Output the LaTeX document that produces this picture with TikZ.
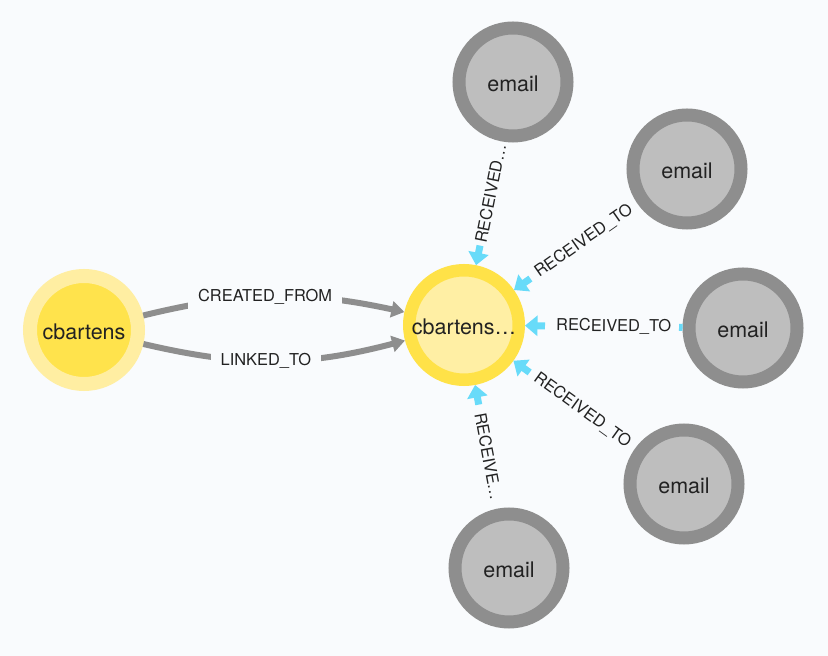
\documentclass[tikz,border=0pt]{standalone}
\usepackage{fontspec}
\setmainfont{TeX Gyre Heros}
\usetikzlibrary{arrows.meta, calc}
\definecolor{canvas}{RGB}{249,251,253}
\definecolor{ink}{RGB}{34,34,34}
\definecolor{usrring}{RGB}{255,238,162}
\definecolor{usrfill}{RGB}{255,227,76}
\definecolor{hubring}{RGB}{255,226,72}
\definecolor{hubfill}{RGB}{255,239,164}
\definecolor{mailring}{RGB}{142,142,142}
\definecolor{mailfill}{RGB}{190,190,190}
\definecolor{relgray}{RGB}{142,142,142}
\definecolor{recvcyan}{RGB}{104,219,249}
\newcommand{\nodefont}{\fontsize{21.5}{24}\selectfont}
\newcommand{\relfont}{\fontsize{16.4}{18}\selectfont}

\begin{document}
\begin{tikzpicture}[x=1pt, y=1pt,
  every node/.style={inner sep=2pt},
  circ/.style={circle, inner sep=0pt, font=\nodefont, text=ink,
               text height=20pt, text depth=0pt},
  person/.style={circ, draw=usrring, fill=usrfill, line width=14pt,
                 minimum size=108pt},
  hubnode/.style={circ, draw=hubring, fill=hubfill, line width=12.5pt,
                  minimum size=109.5pt},
  mail/.style={circ, draw=mailring, fill=mailfill, line width=13pt,
               minimum size=108pt},
  rel/.style={-{Triangle[length=13pt, width=16pt]}, relgray, line width=6pt},
  recv/.style={-{Triangle[length=12.5pt, width=20pt]}, recvcyan, line width=7pt},
  recvline/.style={recvcyan, line width=7pt},
  lbl/.style={font=\relfont, text=ink, fill=canvas, inner xsep=10pt, inner ysep=5pt},
  rlbl/.style={font=\relfont, text=ink, sloped}]
\useasboundingbox (0,0) rectangle (828,656);
\fill[canvas] (0,0) rectangle (828,656);

\node[person]  (usr) at (84,326)  {cbartens};
\node[hubnode] (hub) at (464,331) {cbartens…};
\node[mail] (e1) at (513,574) {email};
\node[mail] (e2) at (687,487) {email};
\node[mail] (e3) at (743,328) {email};
\node[mail] (e4) at (684,172) {email};
\node[mail] (e5) at (509,88)  {email};

% user to hub
\draw[rel] (usr) to[bend left=13]  node[lbl, pos=0.465] {CREATED\_FROM} (hub);
\draw[rel] (usr) to[bend right=14] node[lbl, pos=0.465] {LINKED\_TO} (hub);

% emails to hub, only the ends of the lines show
\foreach \e/\txt in {e1/RECEIVED…, e2/RECEIVED\_TO, e3/RECEIVED\_TO,
                     e4/RECEIVED\_TO, e5/RECEIVE…}{
  \coordinate (s\e) at ($(hub)!81pt!(\e)$);
  \draw[recv] (s\e) -- (hub);
  \path (s\e) -- node[rlbl] {\txt} (\e);
}
\coordinate (t3) at ($(e3)!64pt!(hub)$);
\draw[recvline] (e3) -- (t3);
\end{tikzpicture}
\end{document}
